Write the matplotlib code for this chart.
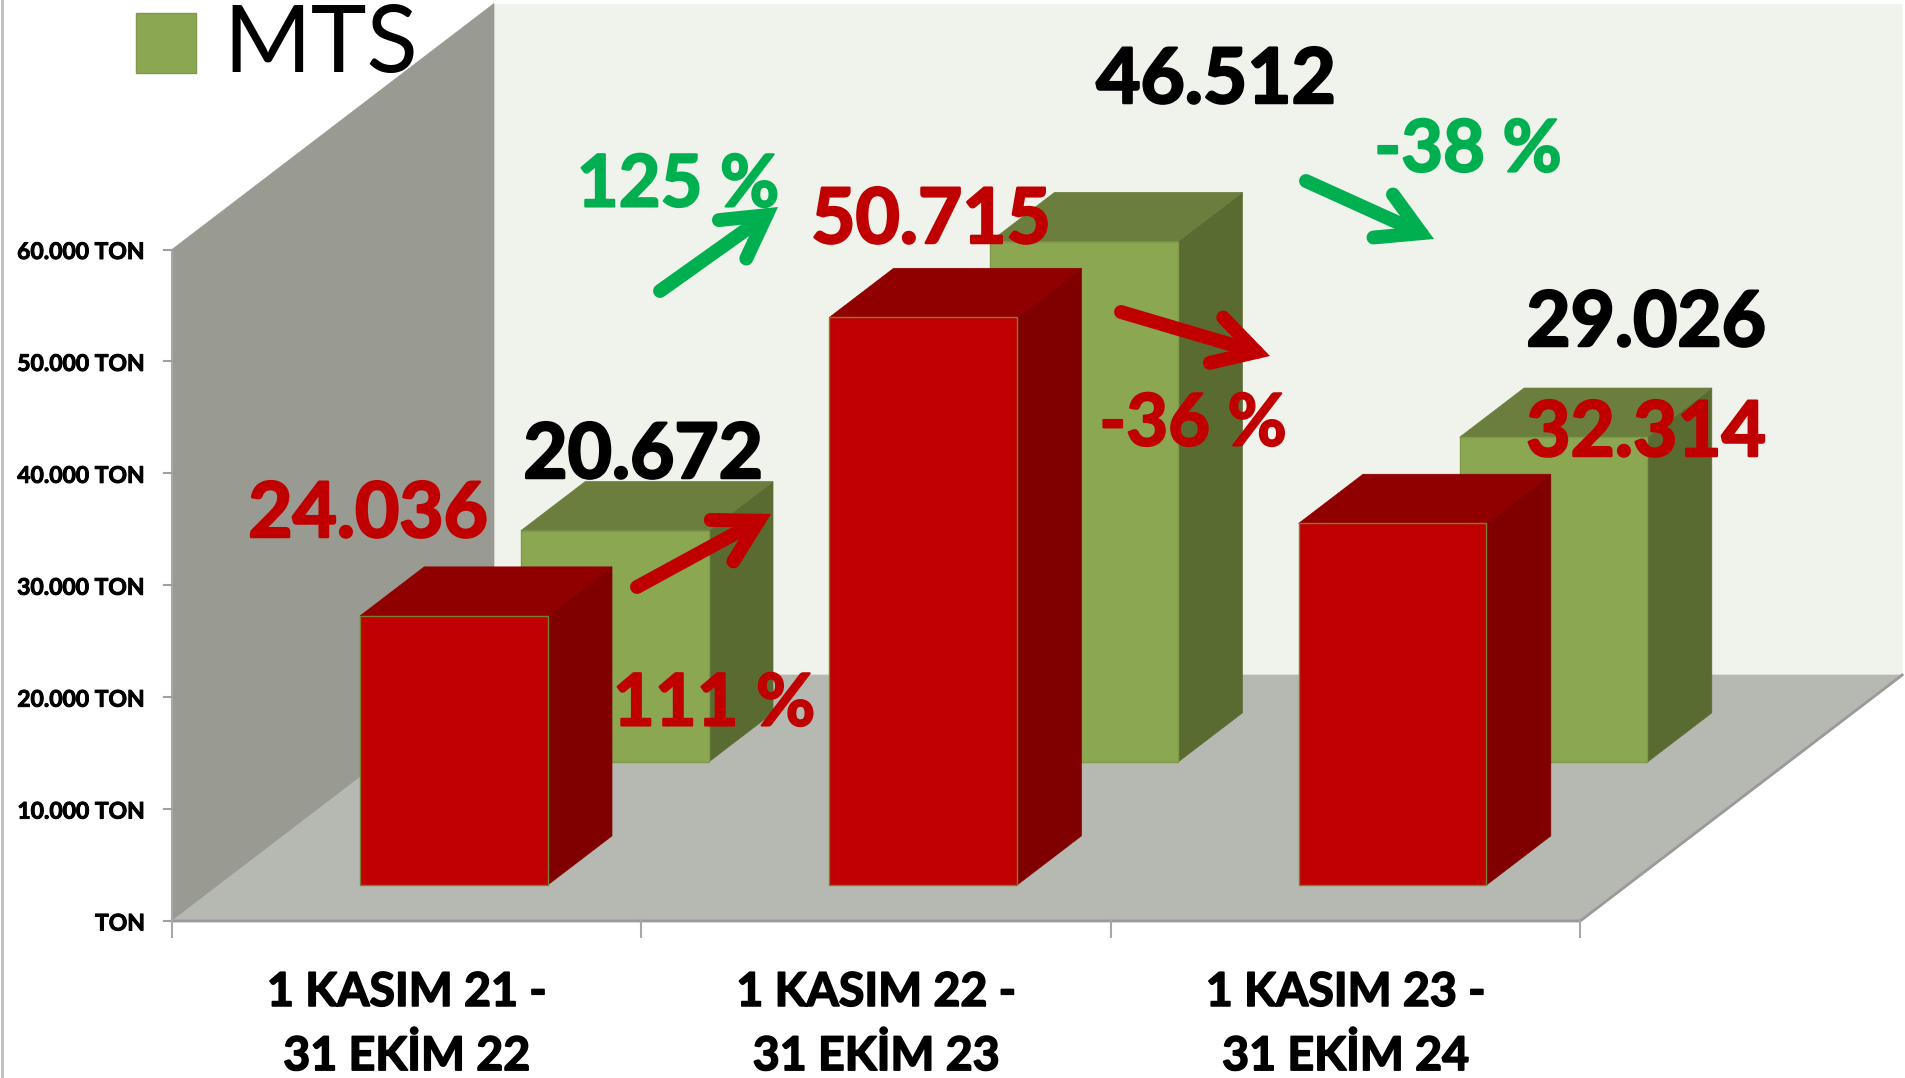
import matplotlib
matplotlib.use("Agg")
import matplotlib.pyplot as plt
import matplotlib.patheffects as pe
from matplotlib.patches import Polygon, Rectangle

plt.rcParams['font.family'] = ['Lato', 'DejaVu Sans']

categories = ["1 KASIM 21 -\n31 EKİM 22", "1 KASIM 22 -\n31 EKİM 23", "1 KASIM 23 -\n31 EKİM 24"]
red_values = [24036, 50715, 32314]
green_values = [20672, 46512, 29026]
red_labels = ["24.036", "50.715", "32.314"]
green_labels = ["20.672", "46.512", "29.026"]
y_ticks = [0, 10000, 20000, 30000, 40000, 50000, 60000]
y_tick_labels = ["TON", "10.000 TON", "20.000 TON", "30.000 TON", "40.000 TON", "50.000 TON", "60.000 TON"]
legend_name = "MTS"

# oblique projection of the excel 3d chart, in pixels of the picture
X0, Y0 = 172, 921
CAT_W = 469.4
PX_PER_VAL = 671.5 / 60000
DEPTH_X, DEPTH_Y = 322, 246

def proj(cat, val, z):
    return (X0 + cat * CAT_W + z * DEPTH_X, Y0 - val * PX_PER_VAL - z * DEPTH_Y)

def poly(ax, pts, color, edge=None, lw=0):
    ax.add_patch(Polygon([proj(*p) for p in pts], closed=True, facecolor=color,
                         edgecolor=edge if edge else color, linewidth=lw if edge else 0.5))

def box(ax, i, val, z0, z1, front, top, side, edge):
    c0, c1 = i + 0.3, i + 0.7
    poly(ax, [(c1, 0, z0), (c1, 0, z1), (c1, val, z1), (c1, val, z0)], side)
    poly(ax, [(c0, val, z0), (c1, val, z0), (c1, val, z1), (c0, val, z1)], top)
    poly(ax, [(c0, 0, z0), (c1, 0, z0), (c1, val, z0), (c0, val, z0)], front, edge, 1.0)

def label(ax, x, y, s, size, col, stroke, **kw):
    t = ax.text(x, y, s, fontsize=size, fontweight="bold", color=col, **kw)
    t.set_path_effects([pe.withStroke(linewidth=stroke, foreground=col)])

fig = plt.figure(figsize=(19.05, 10.78), dpi=100)
ax = fig.add_axes([0, 0, 1, 1])
ax.set_xlim(0, 1905)
ax.set_ylim(1078, 0)
ax.axis("off")

# page edge on the left
ax.plot([2, 2], [0, 1078], color="#BEBEBE", lw=2)

# walls and floor
poly(ax, [(0, 0, 1), (3, 0, 1), (3, 60000, 1), (0, 60000, 1)], "#F0F3EC")
poly(ax, [(0, 0, 0), (0, 0, 1), (0, 60000, 1), (0, 60000, 0)], "#999B93")
poly(ax, [(0, 0, 0), (3, 0, 0), (3, 0, 1), (0, 0, 1)], "#B6B9B1")
ax.plot(*zip(proj(0, 0, 0), proj(3, 0, 0), proj(3, 0, 1)), color="#9A9A9A", lw=2)
ax.plot(*zip(proj(0, 0, 0), proj(0, 60000, 0)), color="#A8A8A8", lw=1.5)

# ticks
for v, lab in zip(y_ticks, y_tick_labels):
    x, y = proj(0, v, 0)
    ax.plot([x - 8, x], [y, y], color="#A0A0A0", lw=1.5)
    label(ax, 145, y + 3, lab, 16.5, "black", 0.7, ha="right", va="center")
for i in range(4):
    x, y = proj(i, 0, 0)
    ax.plot([x, x], [y, y + 16], color="#A8A8A8", lw=1.5)
for i, lab in enumerate(categories):
    x, y = proj(i + 0.5, 0, 0)
    label(ax, x, 1024, lab, 33.5, "black", 1.2, ha="center", va="center", linespacing=1.56)

# bars, back row first
for i, v in enumerate(green_values):
    box(ax, i, v, 0.646, 0.846, "#8BA751", "#6B7E3D", "#5A6B32", "#7F9A48")
for i, v in enumerate(red_values):
    box(ax, i, v, 0.146, 0.346, "#C00000", "#900000", "#800000", "#7A7F30")

# arrows and change labels
GREEN = "#00B050"
RED = "#C00000"
arrows = [((660, 291), (778, 207), GREEN), ((1306, 181), (1434, 239), GREEN),
          ((637, 587), (771, 514), RED), ((1121, 312), (1270, 356), RED)]
for start, end, col in arrows:
    ax.annotate("", xy=end, xytext=start,
                arrowprops=dict(arrowstyle="->,head_length=3.0,head_width=1.7", color=col, lw=10,
                                shrinkA=0, shrinkB=0, capstyle="round", joinstyle="miter"))

label(ax, 678, 186, "125 %", 52, GREEN, 1.5, ha="center", va="center")
label(ax, 1468, 151, "-38 %", 52, GREEN, 1.5, ha="center", va="center")
label(ax, 714, 705, "111 %", 52, RED, 1.5, ha="center", va="center")
label(ax, 1193, 425, "-36 %", 52, RED, 1.5, ha="center", va="center")

# value labels
green_pos = [(643, 456), (1216, 81), (1646, 324)]
red_pos = [(368, 515), (931, 221), (1646, 434)]
for lab, (x, y) in zip(green_labels, green_pos):
    label(ax, x, y, lab, 55, "black", 1.8, ha="center", va="center")
for lab, (x, y) in zip(red_labels, red_pos):
    label(ax, x, y, lab, 55, RED, 1.8, ha="center", va="center")

# legend
ax.add_patch(Rectangle((136, 13), 60, 60, facecolor="#8BA751", edgecolor="#7F9A48", lw=1))
ax.text(223, 46, legend_name, ha="left", va="center", fontsize=68, color="black")

fig.savefig("out.png", dpi=100)
